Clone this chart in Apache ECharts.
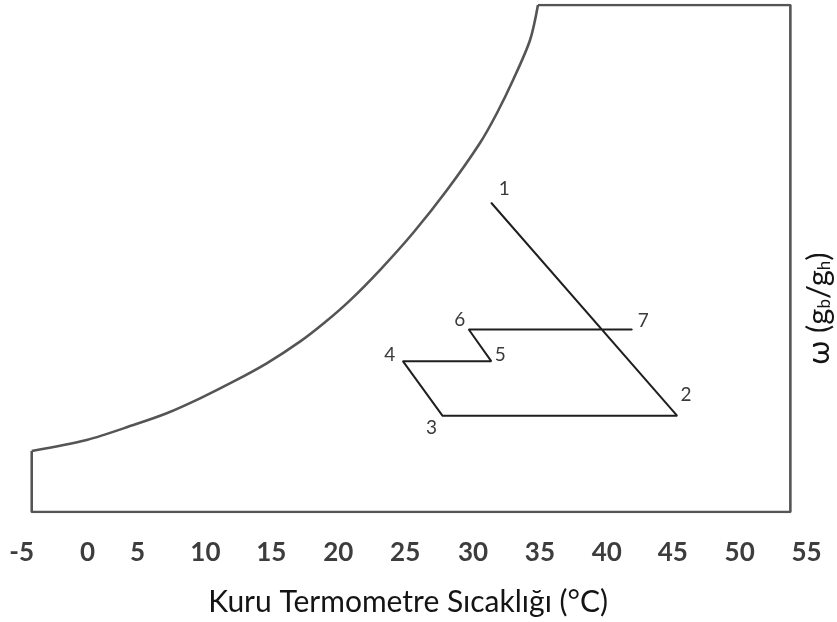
<!DOCTYPE html>
<html>
<head>
<meta charset="utf-8">
<script src="https://cdn.jsdelivr.net/npm/echarts@6/dist/echarts.min.js"></script>
<style>
html,body{margin:0;padding:0;background:#fff;}
#chart{width:837px;height:622px;}
</style>
</head>
<body>
<div id="chart"></div>
<script>
// x-axis tick labels (°C)
var xTicks = [-5, 0, 5, 10, 15, 20, 25, 30, 35, 40, 45, 50, 55];

// Saturation curve (dry bulb °C, humidity ratio)
var satT = [-3.56, 0.61, 4.15, 6.68, 9.21, 11.73, 14.27, 16.79, 18.69, 20.59, 22.86, 25.37, 27.95, 30.45, 31.74, 32.96, 34.25, 34.85];
var satW = [4.81, 5.68, 6.86, 7.79, 8.97, 10.28, 11.73, 13.44, 14.97, 16.70, 19.09, 22.01, 25.40, 29.11, 31.48, 34.08, 37.24, 40];

// Chart frame (left edge, bottom, right edge, top)
var boxT = [-3.56, -3.56, 54.0, 54.0, 34.85];
var boxW = [4.81, 0, 0, 40, 40];

// Process states 1..7
var procLabels = ['1', '2', '3', '4', '5', '6', '7'];
var procT = [31.3, 45.4, 27.6, 24.6, 31.3, 29.6, 42.0];
var procW = [24.4, 7.6, 7.6, 11.9, 11.9, 14.4, 14.4];

// ---- layout helpers ----
var labelOffsets = [[13, -14], [9, -21], [-11, 12], [-13, -6], [9, -6], [-9, -10], [11, -9]];
var tickShift = [9, 9, -7, -5, -5, -4, -3, -1, 0, 1, 1, 2, 3];

function zip(a, b) { return a.map(function (v, i) { return [v, b[i]]; }); }

var font = 'Lato, "Open Sans", sans-serif';

var tickRich = {};
tickShift.forEach(function (s, i) {
  tickRich['t' + i] = {
    color: '#3d3d3d',
    fontSize: 26,
    fontWeight: 'bold',
    fontFamily: font,
    padding: s >= 0 ? [0, 0, 0, 2 * s] : [0, -2 * s, 0, 0]
  };
});

var procData = procT.map(function (t, i) {
  return {
    value: [t, procW[i]],
    name: procLabels[i],
    label: {
      show: true,
      position: 'inside',
      offset: labelOffsets[i],
      formatter: procLabels[i],
      color: '#3a3a3a',
      fontSize: 19,
      fontFamily: font
    }
  };
});

var chart = echarts.init(document.getElementById('chart'));
chart.setOption({
  animation: false,
  backgroundColor: '#ffffff',
  grid: { left: 12.75, right: 33.45, top: 5, bottom: 110, outerBoundsMode: 'none', containLabel: false },
  xAxis: {
    type: 'value',
    min: xTicks[0],
    max: xTicks[xTicks.length - 1],
    interval: 5,
    axisLine: { show: false },
    axisTick: { show: false },
    splitLine: { show: false },
    axisLabel: {
      show: true,
      margin: 28,
      color: '#3d3d3d',
      fontSize: 26,
      fontWeight: 'bold',
      fontFamily: font,
      formatter: function (v) {
        var i = xTicks.indexOf(v);
        return '{t' + i + '|' + v + '}';
      },
      rich: tickRich
    },
    name: 'Kuru Termometre Sıcaklığı (°C)',
    nameLocation: 'middle',
    nameGap: 75,
    nameTextStyle: { color: '#141414', fontSize: 30, fontFamily: font }
  },
  yAxis: {
    type: 'value',
    position: 'right',
    min: 0,
    max: 40,
    axisLine: { show: false },
    axisTick: { show: false },
    splitLine: { show: false },
    axisLabel: { show: false },
    name: '{a|ω (g}{s|b}{a|/g}{s|h}{a|)}',
    nameLocation: 'middle',
    nameRotate: 90,
    nameGap: 1,
    nameTextStyle: {
      padding: [0, 100, 0, 0],
      rich: {
        a: { fontSize: 31, color: '#141414', fontFamily: font, lineHeight: 28 },
        s: { fontSize: 17, color: '#141414', fontFamily: font, verticalAlign: 'bottom', lineHeight: 28 }
      }
    }
  },
  series: [
    {
      type: 'line',
      data: zip(boxT, boxW),
      symbol: 'none',
      lineStyle: { color: '#555555', width: 2.6 },
      silent: true
    },
    {
      type: 'line',
      data: zip(satT, satW),
      symbol: 'none',
      smooth: 0.3,
      lineStyle: { color: '#555555', width: 2.6 },
      silent: true
    },
    {
      type: 'line',
      data: procData,
      symbol: 'circle',
      symbolSize: 1,
      showSymbol: true,
      itemStyle: { color: '#1f1f1f' },
      lineStyle: { color: '#1f1f1f', width: 2 },
      silent: true
    }
  ]
});
</script>
</body>
</html>
